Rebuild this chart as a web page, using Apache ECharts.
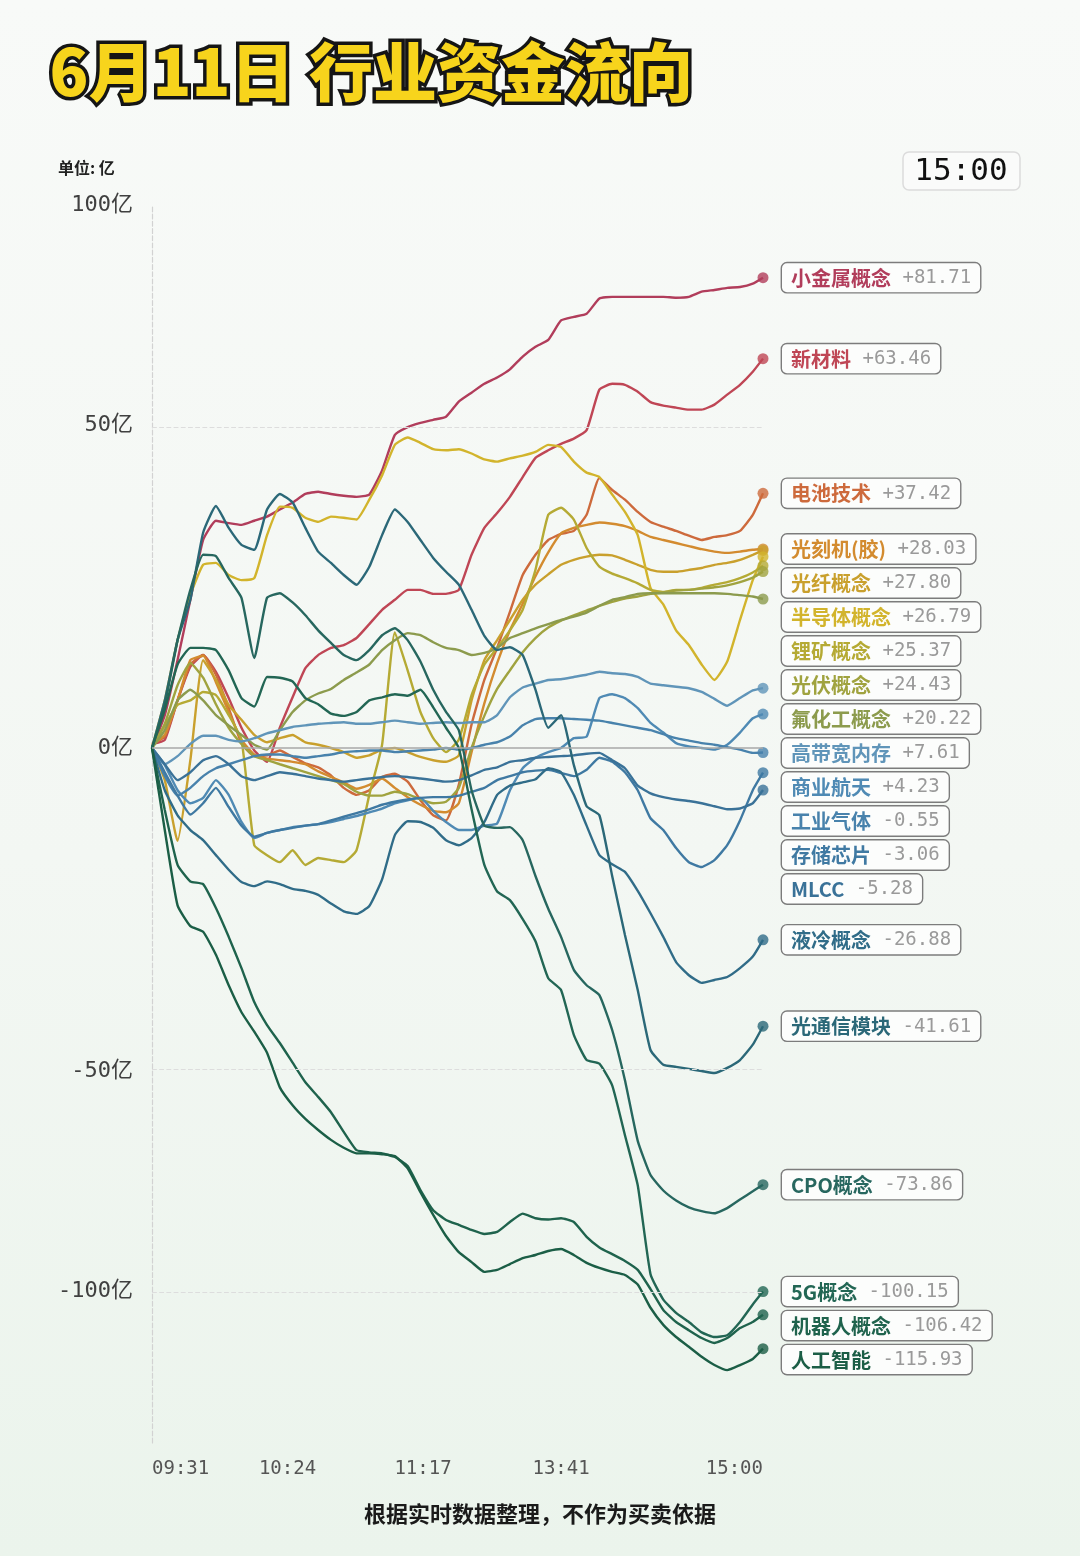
<!DOCTYPE html>
<html>
<head>
<meta charset="utf-8">
<script src="https://cdn.jsdelivr.net/npm/echarts@6/dist/echarts.min.js"></script>
<style>
  html, body { margin: 0; padding: 0; background: #f5f8f5; }
  #chart { width: 1080px; height: 1556px; }
</style>
</head>
<body>
<div id="chart"></div>
<script>
// minute index since 09:31 (0 = 09:31, 239 = 15:00)
const minutes = [0, 5, 10, 15, 20, 25, 30, 35, 40, 45, 50, 55, 60, 65, 70, 75, 80, 85, 90, 95,
  100, 105, 110, 115, 120, 125, 130, 135, 140, 145, 150, 155, 160, 165, 170, 175, 180, 185, 190, 195,
  200, 205, 210, 215, 220, 225, 230, 235, 239]

const xTickIdx = [0, 53, 106, 160, 239]
const xTickText = ['09:31', '10:24', '11:17', '13:41', '15:00']
const yTicks = [100, 50, 0, -50, -100]

// 资金净流入 (亿)
const smallMetals = [0, 4.1, 11.4, 20.1, 29.5, 32.7, 32.3, 32.0, 32.7, 33.4, 34.6, 35.8, 37.3, 37.7, 37.3, 37.0, 36.8, 37.2, 41.5, 48.1, 49.6, 50.4, 51.0, 51.6, 54.6, 56.4, 58.2, 59.5, 61.2, 63.9, 66.0, 67.5, 71.8, 72.6, 73.3, 76.8, 77.2, 77.2, 77.2, 77.2, 77.2, 77.0, 77.2, 78.4, 78.8, 79.3, 79.5, 80.3, 81.71]
const newMaterials = [0.5, 1.0, 6.0, 10.5, 12.1, 9.8, 6.3, 2.5, -0.3, -1.7, 2.5, 6.4, 10.3, 12.1, 13.1, 13.5, 14.5, 16.5, 18.6, 20.1, 21.6, 21.6, 21.0, 21.0, 21.6, 27.1, 31.5, 34.0, 36.8, 40.3, 43.8, 45.2, 46.4, 47.4, 49.0, 57.0, 58.2, 58.0, 56.6, 54.5, 53.8, 53.4, 53.0, 53.0, 54.0, 56.0, 58.0, 60.7, 63.46]
const battery = [0.5, 1.4, 6.0, 10.8, 12.1, 9.4, 5.0, 0.6, -1.0, -0.9, -0.3, -1.1, -1.9, -2.4, -3.4, -5.0, -5.9, -5.3, -3.6, -3.2, -4.2, -6.6, -8.6, -9.3, -4.6, 2.9, 8.7, 13.1, 18.3, 23.9, 27.1, 29.5, 30.5, 31.0, 33.7, 40.1, 38.0, 36.3, 34.2, 32.5, 31.7, 31.0, 30.2, 29.5, 30.0, 30.3, 31.0, 33.7, 37.42]
const litho = [0.4, 1.6, 6.0, 11.4, 12.0, 8.4, 4.5, 1.0, -0.8, -1.3, -1.5, -1.7, -2.0, -2.9, -3.6, -4.3, -5.1, -4.6, -3.8, -5.0, -6.2, -7.2, -8.0, -8.2, -7.0, -0.5, 5.6, 11.0, 15.6, 19.5, 23.7, 27.5, 30.6, 31.5, 32.0, 32.4, 32.2, 31.8, 31.0, 30.0, 29.5, 29.0, 28.5, 28.0, 27.6, 27.4, 27.6, 27.9, 28.03]
const fiber = [0, -4.0, -12.1, -1.5, 11.4, 8.7, 5.4, 3.5, 1.6, 0.7, 1.2, 1.6, 0.7, 0.4, 0, -0.5, -1.2, -0.9, -0.2, 0, -0.5, -1.1, -1.5, -1.7, -0.9, 6.0, 11.4, 14.2, 17.1, 20.1, 22.4, 24.0, 25.5, 26.3, 26.8, 27.1, 27.0, 26.3, 25.5, 24.7, 24.4, 24.4, 24.7, 25.0, 25.5, 25.8, 26.3, 27.1, 27.80]
const semis = [0, 6.0, 14.2, 20.8, 25.5, 25.8, 23.9, 23.1, 23.4, 30.3, 35.1, 34.9, 33.2, 32.5, 33.4, 33.2, 32.9, 36.3, 40.6, 46.2, 47.6, 46.6, 45.4, 45.2, 45.4, 44.6, 43.5, 43.1, 43.7, 44.2, 44.9, 46.2, 45.8, 43.1, 41.1, 40.3, 37.2, 34.2, 30.3, 21.9, 19.4, 15.6, 13.5, 10.8, 8.7, 11.2, 17.1, 23.1, 26.79]
const lithium = [0, 2.8, 5.4, 6.0, 7.1, 6.7, 4.1, 1.0, -12.7, -14.1, -15.1, -13.4, -15.5, -14.5, -14.8, -15.1, -13.4, -5.9, 0.4, 15.3, 10.0, 4.5, 1.2, -0.5, 1.0, 6.7, 10.8, 13.1, 15.6, 18.6, 24.7, 33.7, 34.9, 32.9, 28.2, 25.2, 24.1, 23.4, 22.6, 21.6, 21.3, 21.6, 21.6, 21.9, 22.4, 22.8, 23.4, 24.3, 25.37]
const solar = [0, 3.0, 8.0, 11.0, 9.0, 5.5, 2.5, 0.5, -1.0, -1.5, -2.0, -2.5, -3.0, -3.5, -4.0, -4.5, -5.5, -6.0, -6.0, -5.5, -5.8, -6.5, -7.0, -6.8, -5.0, 0.0, 4.0, 7.5, 10.0, 12.5, 14.5, 16.0, 17.0, 17.8, 18.5, 19.2, 19.8, 20.3, 20.6, 21.0, 21.2, 21.5, 21.6, 21.8, 22.0, 22.3, 22.8, 23.5, 24.43]
const fluoro = [0, 2.2, 6.0, 7.4, 6.0, 4.1, 2.8, 1.6, 0.4, -0.2, 2.2, 4.5, 6.0, 6.9, 7.5, 8.7, 9.7, 10.8, 12.8, 14.2, 15.2, 14.9, 13.9, 13.1, 12.8, 12.1, 12.4, 13.1, 14.5, 15.2, 15.9, 16.5, 17.1, 17.6, 18.2, 19.2, 20.1, 20.5, 21.0, 21.1, 21.1, 21.1, 21.1, 21.1, 21.1, 21.0, 20.8, 20.6, 20.22]
const hbm = [0, -2.0, -1.0, 0.5, 1.5, 1.5, 1.0, 0.8, 1.2, 1.8, 2.2, 2.6, 2.8, 3.0, 3.1, 3.2, 3.0, 3.0, 3.2, 3.4, 3.2, 3.0, 3.1, 3.2, 3.1, 3.2, 3.2, 4.1, 6.4, 7.7, 8.2, 8.7, 8.8, 9.1, 9.4, 9.8, 9.6, 9.5, 9.1, 8.2, 8.0, 7.8, 7.6, 7.1, 6.2, 5.3, 6.3, 7.3, 7.61]
const aerospace = [0, -2.1, -5.3, -7.0, -6.3, -4.0, -5.9, -9.5, -11.7, -11.0, -10.6, -10.2, -10.0, -9.8, -9.5, -9.1, -8.7, -8.2, -7.7, -7.0, -6.6, -6.3, -8.0, -9.5, -10.6, -10.6, -10.0, -9.7, -5.3, -2.5, -1.2, -0.5, 0, 1.2, 1.4, 6.3, 6.8, 6.3, 5.0, 3.1, 1.9, 0.6, 0.2, 0, -0.2, 0.4, 1.9, 3.7, 4.23]
const gases = [0, -3.5, -6.0, -5.0, -3.5, -2.5, -2.0, -1.5, -1.0, -0.8, -0.8, -1.0, -1.2, -1.0, -0.8, -0.5, -0.4, -0.3, -0.3, -0.5, -0.4, -0.3, -0.2, 0, -0.2, 0, 0.4, 0.7, 1.4, 2.8, 3.6, 3.7, 3.7, 3.6, 3.5, 3.4, 3.1, 2.8, 2.5, 2.2, 1.7, 1.2, 0.9, 0.6, 0.4, 0.1, -0.2, -0.6, -0.55]
const memory = [0, -3.0, -6.0, -8.5, -7.0, -5.0, -7.5, -10.0, -11.5, -11.0, -10.6, -10.3, -10.0, -9.8, -9.3, -8.8, -8.3, -7.8, -7.2, -6.8, -6.5, -6.3, -6.2, -6.2, -6.0, -5.5, -5.0, -4.0, -3.5, -3.0, -2.8, -2.7, -3.1, -3.5, -2.7, -1.2, -1.7, -3.0, -5.3, -9.0, -10.6, -13.1, -15.1, -15.8, -14.8, -12.7, -9.3, -5.3, -3.06]
const mlcc = [0, -2.0, -4.0, -3.0, -1.5, -1.0, -2.0, -3.5, -4.0, -3.5, -3.0, -3.2, -3.5, -3.8, -4.0, -4.2, -4.0, -3.8, -3.6, -3.5, -3.6, -3.8, -4.0, -4.2, -4.0, -3.4, -2.7, -2.4, -1.7, -1.5, -1.2, -1.1, -1.0, -0.9, -0.7, -0.6, -1.5, -2.5, -4.7, -5.7, -6.2, -6.5, -6.7, -7.0, -7.4, -7.8, -7.7, -7.0, -5.28]
const liquidCool = [0, -5.3, -8.6, -10.6, -12.0, -14.1, -16.2, -18.0, -18.6, -17.9, -18.3, -19.0, -19.3, -19.9, -21.2, -22.4, -22.8, -21.6, -17.6, -11.3, -9.4, -9.5, -10.3, -12.0, -12.7, -11.7, -9.5, -5.9, -4.7, -4.3, -3.9, -2.5, -3.0, -5.9, -10.0, -14.1, -15.4, -16.5, -19.3, -22.7, -26.4, -30.5, -32.7, -34.0, -33.5, -33.0, -31.5, -29.6, -26.88]
const optical = [0, 6.0, 14.2, 20.1, 30.7, 35.2, 31.5, 28.7, 27.9, 34.6, 37.3, 35.8, 31.5, 27.6, 25.8, 23.9, 22.4, 25.2, 30.3, 34.6, 32.5, 29.5, 26.6, 24.4, 22.4, 18.6, 14.8, 12.8, 13.2, 12.1, 7.4, 2.5, 4.1, -2.1, -7.4, -8.6, -17.1, -26.1, -35.2, -46.0, -48.8, -49.2, -49.6, -50.0, -50.4, -49.4, -47.9, -45.0, -41.61]
const cpo = [0, 5.4, 14.2, 21.6, 27.1, 26.9, 23.4, 20.4, 11.7, 20.4, 21.1, 19.7, 17.8, 15.6, 13.8, 12.1, 11.4, 12.8, 14.9, 15.9, 14.2, 11.2, 7.4, 4.5, 2.2, -5.3, -10.0, -10.3, -10.2, -12.0, -17.1, -22.0, -26.4, -31.8, -34.4, -36.1, -42.3, -51.8, -64.2, -71.7, -75.2, -77.5, -79.1, -80.0, -80.5, -79.3, -77.3, -75.4, -73.86]
const fiveG = [0, 4.8, 10.8, 13.1, 13.1, 12.8, 10.0, 6.3, 5.2, 9.1, 9.0, 8.5, 6.3, 5.5, 4.3, 4.0, 4.5, 6.0, 6.4, 6.8, 6.6, 7.4, 5.1, 2.5, 0, -7.8, -15.5, -19.4, -20.7, -23.6, -27.1, -33.2, -35.2, -43.2, -47.9, -48.6, -52.8, -63.0, -74.0, -95.6, -102.3, -105.9, -108.4, -111.3, -112.6, -112.1, -108.4, -103.6, -100.15]
const robots = [0, -7.9, -15.5, -17.9, -18.3, -21.9, -26.4, -31.5, -37.3, -41.4, -44.7, -48.4, -52.2, -55.1, -58.2, -62.3, -66.2, -66.7, -66.9, -67.7, -69.7, -75.1, -79.8, -82.1, -83.3, -84.5, -85.5, -85.0, -82.6, -80.6, -81.7, -82.0, -81.7, -82.6, -86.2, -88.8, -90.5, -92.2, -94.5, -99.5, -105.1, -108.4, -110.7, -112.9, -114.3, -112.9, -110.1, -108.4, -106.42]
const ai = [0, -10.6, -21.5, -24.7, -25.6, -29.3, -34.4, -39.1, -42.6, -46.5, -53.2, -56.8, -59.6, -61.9, -64.0, -65.7, -66.9, -66.9, -67.1, -67.5, -70.2, -75.6, -80.9, -86.0, -90.0, -92.5, -95.0, -94.5, -93.0, -91.5, -90.7, -89.7, -89.2, -90.7, -92.7, -94.0, -95.0, -95.8, -98.3, -104.5, -109.2, -112.6, -115.4, -118.3, -120.7, -122.2, -120.7, -118.9, -115.93]

const sectorNames = ['小金属概念', '新材料', '电池技术', '光刻机(胶)', '光纤概念', '半导体概念', '锂矿概念',
  '光伏概念', '氟化工概念', '高带宽内存', '商业航天', '工业气体', '存储芯片', 'MLCC', '液冷概念',
  '光通信模块', 'CPO概念', '5G概念', '机器人概念', '人工智能']
const sectorValues = [smallMetals, newMaterials, battery, litho, fiber, semis, lithium, solar, fluoro,
  hbm, aerospace, gases, memory, mlcc, liquidCool, optical, cpo, fiveG, robots, ai]

const palette = ['#b13d5b', '#bf4655', '#cd6a3c', '#d38b2f', '#c9a02d', '#d2b42c', '#b5aa34',
  '#a0a33f', '#8c9b4d', '#6095b9', '#4f8ab4', '#4882ac', '#3f79a2', '#3a7298', '#306c88',
  '#2b6878', '#27675f', '#226654', '#1f634d', '#1b5e46']

// symmetric log scale used by the picture
const C = 85
const fwd = v => Math.sign(v) * Math.log(1 + Math.abs(v) / C)
const inv = t => Math.sign(t) * C * (Math.exp(Math.abs(t)) - 1)

const chart = echarts.init(document.getElementById('chart'))
const mono = '"DejaVu Sans Mono", "Noto Sans CJK SC", monospace'
const cjk = '"Noto Sans CJK SC", sans-serif'

const lineSeries = sectorNames.map((name, i) => {
  const vals = sectorValues[i]
  const last = vals[vals.length - 1]
  const txt = (last >= 0 ? '+' : '-') + Math.abs(last).toFixed(2)
  return {
    type: 'line',
    name,
    data: minutes.map((m, j) => [m, fwd(vals[j])]),
    showSymbol: false,
    symbol: 'none',
    smooth: 0.15,
    z: 3,
    lineStyle: { width: 2.4, color: palette[i] },
    itemStyle: { color: palette[i] },
    endLabel: {
      show: true,
      distance: 19,
      offset: [0, 0],
      formatter: () => `{n|${name}}{v| ${txt}}`,
      backgroundColor: '#fcfdfc',
      borderColor: '#7c7c7c',
      borderWidth: 1.4,
      borderRadius: 5,
      padding: [5, 9, 4, 9],
      rich: {
        n: { fontFamily: cjk, fontSize: 20, color: palette[i], fontWeight: 'bold' },
        v: { fontFamily: mono, fontSize: 19, color: '#9a9a9a' }
      }
    }
  }
})

const option = {
  animation: false,
  backgroundColor: {
    type: 'linear', x: 0, y: 0, x2: 0, y2: 1,
    colorStops: [
      { offset: 0, color: '#f8faf8' },
      { offset: 0.55, color: '#f3f7f3' },
      { offset: 1, color: '#ebf4ec' }
    ]
  },
  grid: { left: 152, right: 317, top: 205, bottom: 113 },
  xAxis: {
    type: 'value',
    min: 0,
    max: 239,
    axisLine: { show: false, onZero: false },
    axisTick: { show: false },
    splitLine: { show: false },
    axisLabel: {
      customValues: xTickIdx,
      formatter: v => xTickText[xTickIdx.indexOf(Math.round(v))] || '',
      alignMinLabel: 'left',
      alignMaxLabel: 'right',
      margin: 17,
      fontFamily: mono,
      fontSize: 19,
      color: '#555'
    }
  },
  yAxis: {
    type: 'value',
    min: fwd(-145),
    max: fwd(100),
    axisLine: { show: true, lineStyle: { type: 'dashed', color: '#d2d2d2', width: 1.2 } },
    axisTick: { show: false },
    splitLine: { show: false },
    axisLabel: {
      customValues: yTicks.map(fwd),
      formatter: v => Math.round(inv(v)) + '亿',
      margin: 19,
      fontFamily: mono,
      fontSize: 22,
      color: '#404040'
    }
  },
  graphic: [
    {
      type: 'text', left: 46, top: 36, z: 10,
      style: {
        text: '6月11日 行业资金流向',
        font: '900 64px "Noto Sans CJK SC"',
        fill: '#f7d41c',
        stroke: '#151515',
        lineWidth: 7
      }
    },
    {
      type: 'text', left: 58, top: 160,
      style: { text: '单位: 亿', font: 'bold 16px "Noto Sans CJK SC"', fill: '#222' }
    },
    {
      type: 'rect', z: 5,
      shape: { x: 903, y: 152, width: 117, height: 38, r: 6 },
      style: { fill: '#fafbfa', stroke: '#dcdcdc', lineWidth: 1.5 }
    },
    {
      type: 'text', x: 961, y: 172, z: 6,
      style: { text: '15:00', font: '31px "DejaVu Sans Mono"', fill: '#111', align: 'center', verticalAlign: 'middle' }
    },
    {
      type: 'text', x: 540, y: 1514,
      style: {
        text: '根据实时数据整理，不作为买卖依据', font: 'bold 22px "Noto Sans CJK SC"',
        fill: '#1a1a1a', align: 'center', verticalAlign: 'middle'
      }
    }
  ],
  series: [
    ...lineSeries,
    {
      type: 'line',
      data: [],
      z: 1,
      silent: true,
      markLine: {
        silent: true,
        symbol: 'none',
        label: { show: false },
        lineStyle: { type: 'dashed', color: '#dddddd', width: 1.2 },
        data: [
          { yAxis: fwd(100) }, { yAxis: fwd(50) }, { yAxis: fwd(-50) }, { yAxis: fwd(-100) },
          { yAxis: 0, lineStyle: { type: 'solid', color: '#a8a8a8', width: 1.6 } }
        ]
      }
    },
    {
      type: 'scatter',
      z: 4,
      symbolSize: 11,
      data: sectorValues.map((vals, i) => ({
        value: [239, fwd(vals[vals.length - 1])],
        itemStyle: { color: palette[i] }
      }))
    }
  ]
}

chart.setOption(option)

// stack end labels so they do not overlap (34px apart)
const ends = sectorValues.map((vals, i) => ({
  i,
  y: chart.convertToPixel({ gridIndex: 0 }, [239, fwd(vals[vals.length - 1])])[1]
})).sort((a, b) => a.y - b.y)
const shift = []
let prev = -Infinity
ends.forEach(e => {
  const y = Math.max(e.y, prev + 34)
  shift[e.i] = y - e.y
  prev = y
})
chart.setOption({
  series: sectorNames.map((n, i) => ({ endLabel: { offset: [0, shift[i]] } }))
})
</script>
